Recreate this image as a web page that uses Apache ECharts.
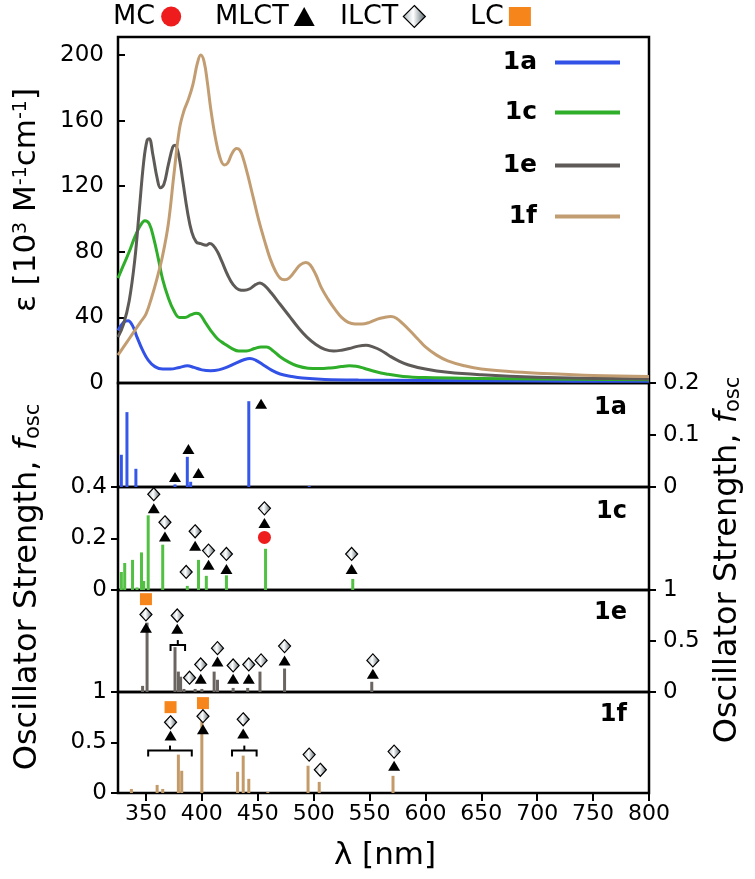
<!DOCTYPE html>
<html><head><meta charset="utf-8">
<script src="https://cdn.jsdelivr.net/npm/echarts@6/dist/echarts.min.js"></script>
<style>html,body{margin:0;padding:0;background:#fff}#c{width:755px;height:879px}</style>
</head><body><div id="c"></div>
<script>
const FONT = 'DejaVu Sans';

// ---------- absorption spectra: [lambda nm, epsilon 10^3 M^-1 cm^-1]
const abs1a = [[325,32],[330,37],[334,38],[338,35],[342,28],[347,20],[352,14],[358,10],[365,8.5],[372,8.5],[380,9.5],[387,10.5],[393,9.5],[400,8],[408,7.5],[415,8],[422,9.5],[430,12],[437,14],[443,15],[448,14],[455,11],[462,8],[470,5.5],[480,4],[490,3],[510,2.2],[540,1.8],[600,1.5],[700,1.2],[800,1]];
const abs1c = [[325,64],[330,72],[335,80],[340,89],[345,96],[349,99],[353,97],[357,88],[361,76],[365,63],[370,52],[375,44],[380,40],[385,40],[390,41.5],[395,42.5],[398,42],[403,37],[408,32],[414,27],[420,24],[427,21],[433,19.5],[440,19.5],[447,21],[453,22],[458,22],[463,20],[470,16],[477,13],[485,10.5],[495,9],[505,8.8],[515,9.2],[525,10],[532,10.5],[538,10.2],[545,9],[555,7],[565,5.5],[580,4],[600,3.3],[650,2.8],[700,2.4],[800,2]];
const abs1e = [[325,28],[330,36],[335,50],[340,75],[344,105],[348,135],[351,148],[353,149],[356,140],[360,125],[363,119],[366,121],[370,133],[374,144],[376,145],[379,140],[383,123],[387,105],[391,92],[395,86],[399,85],[404,84],[407,85],[410,84],[414,80],[418,74],[423,66],[428,60],[433,57],[438,56.5],[443,57.5],[448,60],[452,61],[456,59.5],[462,55],[470,48],[478,41],[486,34],[494,28],[502,23.5],[510,20.5],[518,19.5],[525,20],[532,21],[540,22.5],[547,23],[553,22],[560,20],[568,16.5],[576,13.5],[585,11],[600,8.5],[620,6.5],[650,5],[700,3.5],[750,2.8],[800,2.5]];
const abs1f = [[325,17],[330,22],[335,27],[340,32],[345,37],[350,42],[355,52],[360,64],[365,78],[370,97],[375,127],[380,155],[384,166],[388,173],[392,182],[396,195],[399,200],[402,196],[405,183],[408,167],[412,150],[416,138],[420,133],[423,134],[427,140],[431,143],[434,142],[437,137],[441,127],[446,113],[451,99],[456,87],[461,76],[466,68],[470,64],[474,63],[478,64],[483,68],[488,72],[493,73.5],[497,72],[502,66],[507,58],[513,51],[519,45],[525,40],[531,37],[537,36],[543,36],[550,37],[557,39],[563,40],[569,40.5],[574,39.5],[580,36],[586,32],[593,27],[600,22],[610,17],[620,13.5],[635,10.5],[650,8.5],[675,7],[700,6],[750,4.5],[800,4]];

// ---------- oscillator strengths (sticks): [lambda nm, f_osc]
const osc1a = [[328,0.062],[333,0.144],[341,0.035],[376,0.005],[387,0.058],[390,0.01],[442,0.165],[496,0.002]];
const osc1c = [[328,0.07],[331,0.105],[338,0.117],[342,0.01],[346,0.146],[348,0.035],[352,0.29],[365,0.176],[387,0.016],[397,0.117],[404,0.055],[422,0.057],[457,0.16],[535,0.043]];
const osc1e = [[347,0.06],[351,0.68],[376,0.44],[379,0.2],[381,0.15],[384,0.03],[394,0.03],[400,0.03],[411,0.2],[414,0.12],[428,0.04],[441,0.04],[452,0.2],[474,0.23],[552,0.1]];
const osc1f = [[337,0.04],[360,0.08],[365,0.04],[379,0.38],[382,0.22],[400,0.79],[432,0.21],[437,0.37],[442,0.14],[459,0.01],[495,0.27],[505,0.11],[571,0.17]];

// ---------- transition character markers: [lambda nm, f_osc position]
const mlct1a = [[376,0.019],[388,0.073],[397,0.027],[453,0.160]];
const mlct1c = [[357,0.317],[367,0.208],[394,0.172],[406,0.098],[422,0.082],[456,0.26],[534,0.082]];
const ilct1c = [[357,0.372],[367,0.263],[386,0.07],[394,0.228],[406,0.153],[422,0.14],[456,0.317],[534,0.14]];
const mc1c = [[456,0.204]];
const lc1e = [[350,0.91]];
const ilct1e = [[350,0.76],[378,0.75],[389,0.14],[399,0.27],[414,0.43],[428,0.26],[442,0.27],[453,0.31],[474,0.45],[553,0.31]];
const mlct1e = [[350,0.63],[378,0.62],[399,0.13],[414,0.30],[428,0.13],[442,0.13],[474,0.31],[553,0.18]];
const lc1f = [[372,0.85],[401,0.89]];
const ilct1f = [[372,0.70],[401,0.76],[437,0.73],[496,0.38],[506,0.23],[572,0.41]];
const mlct1f = [[372,0.57],[401,0.63],[437,0.59],[572,0.27]];
// brackets: [lambda start, lambda end, f_osc]
const brk1e = [[372,385,0.46]];
const brk1f = [[352,391,0.42],[427,449,0.42]];

// ---------- ticks
const xTicks = [350,400,450,500,550,600,650,700,750,800];
const epsTicks = [0,40,80,120,160,200];
const ticks1a = [0,0.1,0.2];
const ticks1c = [0,0.2,0.4];
const ticks1e = [0,0.5,1];
const ticks1f = [0,0.5,1];

const names = ['1a','1c','1e','1f'];
const lineColors = ['#3251e6','#2fae2a','#5e5a57','#c39d72'];
const barColors = ['#3558ea','#52c143','#6b6561','#c49a68'];

const chart = echarts.init(document.getElementById('c'), null, {renderer:'canvas'});

const L = 118, R = 106;
const grids = [
  {left:L, right:R, top:37, height:346},
  {left:L, right:R, top:383, height:104},
  {left:L, right:R, top:487, height:103},
  {left:L, right:R, top:590, height:102},
  {left:L, right:R, top:692, height:101}
].map(g => Object.assign(g, {show:true, borderColor:'#000', borderWidth:2.5, backgroundColor:'transparent'}));

const xAxes = grids.map((g,i) => ({
  type:'value', gridIndex:i, min:325, max:800, show: i===4,
  axisLine:{show:false}, splitLine:{show:false},
  axisTick:{show:true, inside:false, length:8, lineStyle:{color:'#000', width:2}, customValues:xTicks},
  axisLabel:{show:true, customValues:xTicks, color:'#000', fontFamily:FONT, fontSize:22, margin:10}
}));

function yAx(i, max, pos, ticks, inside, margin){
  return {type:'value', gridIndex:i, min:0, max:max, position:pos,
    axisLine:{show:false}, splitLine:{show:false},
    axisTick:{show:true, inside:inside, length:7, lineStyle:{color:'#000', width:2}, customValues:ticks},
    axisLabel:{customValues:ticks, color:'#000', fontFamily:FONT, fontSize:23, margin:margin}};
}
const yAxes = [
  yAx(0, 211, 'left', epsTicks, true, 14),
  yAx(1, 0.2, 'right', ticks1a, false, 14),
  yAx(2, 0.4, 'left', ticks1c, false, 11),
  yAx(3, 1, 'right', ticks1e, false, 14),
  yAx(4, 1, 'left', ticks1f, false, 11)
];

const absData = [abs1a, abs1c, abs1e, abs1f];
const oscData = [osc1a, osc1c, osc1e, osc1f];

const series = [];
absData.forEach((d,k) => series.push({
  name:names[k], type:'line', xAxisIndex:0, yAxisIndex:0, data:d, smooth:0.4,
  showSymbol:false, symbol:'none', lineStyle:{color:lineColors[k], width:3}, itemStyle:{color:lineColors[k]}, z:3
}));
oscData.forEach((d,k) => series.push({
  name:names[k]+' f', type:'bar', xAxisIndex:k+1, yAxisIndex:k+1, data:d, barWidth:3,
  itemStyle:{color:barColors[k]}, z:2
}));

const diamondFill = {type:'linear', x:0, y:0, x2:1, y2:0, colorStops:[
  {offset:0, color:'#a7b3b8'},{offset:0.45, color:'#ffffff'},{offset:1, color:'#526168'}]};
const markerStyle = {
  MLCT:{symbol:'triangle', symbolSize:[12,10], itemStyle:{color:'#000', opacity:1}},
  ILCT:{symbol:'diamond', symbolSize:[12,13], itemStyle:{color:diamondFill, borderColor:'#000', borderWidth:1.2, opacity:1}},
  MC:{symbol:'circle', symbolSize:13, itemStyle:{color:'#ee1c1c', opacity:1}},
  LC:{symbol:'rect', symbolSize:[12,12], itemStyle:{color:'#f6861c', opacity:1}}
};
function marker(type, panel, data){
  const s = markerStyle[type];
  series.push({name:type, type:'scatter', xAxisIndex:panel, yAxisIndex:panel, data:data,
    symbol:s.symbol, symbolSize:s.symbolSize, itemStyle:s.itemStyle, z:5, clip:false});
}
marker('MLCT',1,mlct1a);
marker('ILCT',2,ilct1c); marker('MLCT',2,mlct1c); marker('MC',2,mc1c);
marker('LC',3,lc1e); marker('ILCT',3,ilct1e); marker('MLCT',3,mlct1e);
marker('LC',4,lc1f); marker('ILCT',4,ilct1f); marker('MLCT',4,mlct1f);

function bracketRender(params, api){
  const p1 = api.coord([api.value(0), api.value(2)]);
  const p2 = api.coord([api.value(1), api.value(2)]);
  const y = p1[1], mid = (p1[0]+p2[0])/2;
  return {type:'group', children:[
    {type:'polyline', shape:{points:[[p1[0],y+6],[p1[0],y],[p2[0],y],[p2[0],y+6]]}, style:{stroke:'#000', lineWidth:2, fill:null}},
    {type:'line', shape:{x1:mid, y1:y, x2:mid, y2:y-5}, style:{stroke:'#000', lineWidth:2}}
  ]};
}
[[3,brk1e],[4,brk1f]].forEach(([p,d]) => series.push({
  name:'bracket', type:'custom', xAxisIndex:p, yAxisIndex:p, data:d,
  encode:{x:[0,1], y:2}, renderItem:bracketRender, z:4, clip:false
}));

const legends = [];
// top marker key
const keyItems = [
  ['MC',113,'circle',22,20,{color:'#ee1c1c'}],
  ['MLCT',215,'triangle',21,19,{color:'#000'}],
  ['ILCT',340,'diamond',22,22,{color:diamondFill, borderColor:'#000', borderWidth:1.2}],
  ['LC',470,'rect',22,19,{color:'#f6861c'}]
];
keyItems.forEach(([n,x,icon,w,h,st]) => {
  legends.push({data:[{name:n, icon:icon, itemStyle:st}], left:x, top:3, align:'right', icon:icon, itemWidth:w, itemHeight:h, padding:0,
    selectedMode:false, textStyle:{fontFamily:FONT, fontSize:27, color:'#000'}, itemStyle:st});
});
// curve legend
[63,113,166,217].forEach((y,k) => {
  legends.push({data:[names[k]], right:135, top:y-13, align:'right', icon:'rect', itemWidth:65, itemHeight:4, padding:0,
    selectedMode:false, textStyle:{fontFamily:FONT, fontSize:25, fontWeight:'bold', color:'#000', padding:[0,13,0,0]}});
});

const tStyle = (extra) => Object.assign({fill:'#000', fontFamily:FONT, align:'center', verticalAlign:'middle', textAlign:'center', textVerticalAlign:'middle'}, extra);
const oscRich = {a:{fontFamily:FONT, fontSize:32, fill:'#000'}, i:{fontFamily:FONT, fontSize:32, fontStyle:'italic', fill:'#000'}, s:{fontFamily:FONT, fontSize:21, fill:'#000', verticalAlign:'bottom', padding:[10,0,0,0]}};
const graphic = [
  {type:'text', x:27, y:200, rotation:Math.PI/2, style:tStyle({text:'{a|ε [10}{s|3}{a| M}{s|-1}{a|cm}{s|-1}{a|]}',
    rich:{a:{fontFamily:FONT, fontSize:31, fill:'#000'}, s:{fontFamily:FONT, fontSize:19, fill:'#000', verticalAlign:'top', padding:[0,0,12,0]}}})},
  {type:'text', x:28, y:587, rotation:Math.PI/2, style:tStyle({text:'{a|Oscillator Strength, }{i|f}{s|osc}', rich:oscRich})},
  {type:'text', x:728, y:560, rotation:Math.PI/2, style:tStyle({text:'{a|Oscillator Strength, }{i|f}{s|osc}', rich:oscRich})},
  {type:'text', x:385, y:856, style:tStyle({text:'λ [nm]', fontSize:31})}
];
[[408,'1a'],[512,'1c'],[613,'1e'],[715,'1f']].forEach(([y,t]) => graphic.push(
  {type:'text', x:627, y:y, style:{text:t, fill:'#000', fontFamily:FONT, fontSize:24, fontWeight:'bold', align:'right', verticalAlign:'middle', textAlign:'right', textVerticalAlign:'middle'}}
));

chart.setOption({
  animation:false,
  backgroundColor:'#fff',
  grid:grids, xAxis:xAxes, yAxis:yAxes, series:series, legend:legends, graphic:graphic
});
</script></body></html>
